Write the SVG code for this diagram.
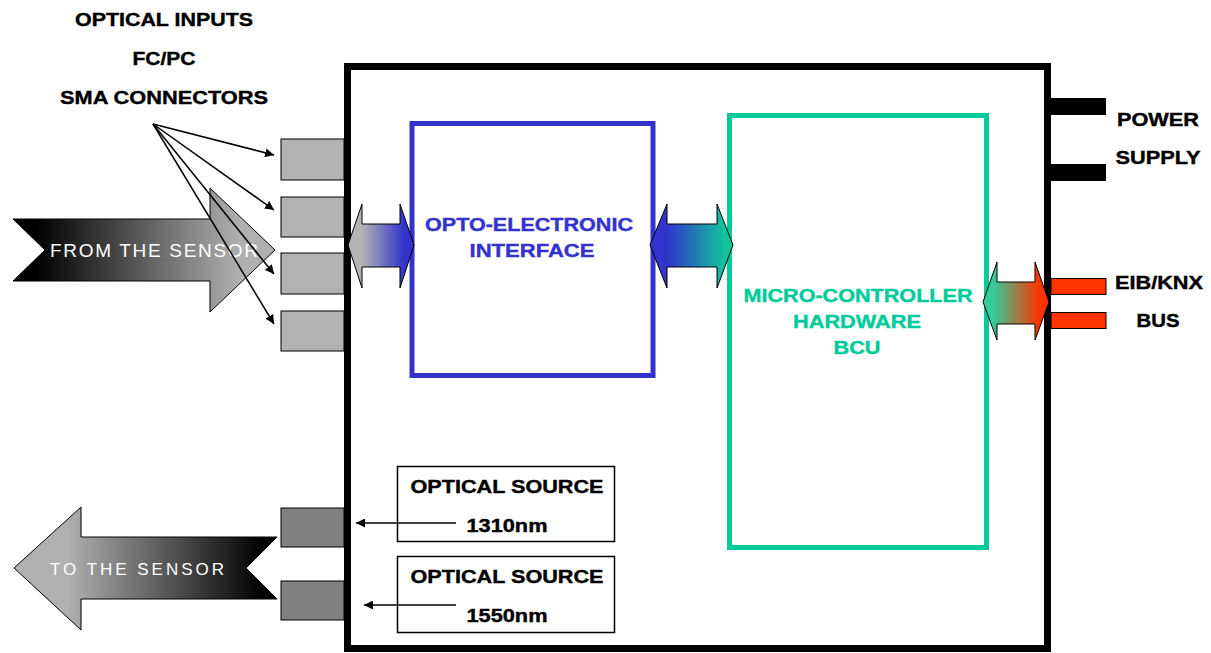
<svg xmlns="http://www.w3.org/2000/svg" width="1211" height="653" viewBox="0 0 1211 653">
<style>
.lbl{font-family:"Liberation Sans",Arial,sans-serif;font-weight:bold;font-size:19px;text-anchor:middle;fill:#000;stroke:#000;stroke-width:0.4}
.wl{font-family:"Liberation Sans",Arial,sans-serif;font-size:19px;fill:#fff}
.blue{fill:#3333cc;stroke:#3333cc}
.teal{fill:#00cc99;stroke:#00cc99}
.conn{fill:#b2b2b2;stroke:#000;stroke-width:1}
.conn2{fill:#808080;stroke:#000;stroke-width:1}
.dbl{stroke:#000;stroke-width:1}
.ln{stroke:#000;stroke-width:1.5;fill:none;marker-end:url(#ah)}
</style>
<defs>
<marker id="ah" viewBox="0 0 10 10" refX="10" refY="5" markerWidth="9" markerHeight="9" markerUnits="userSpaceOnUse" orient="auto">
<path d="M0,0 L10,5 L0,10 z" fill="#000"/>
</marker>
<linearGradient id="gFrom" x1="13" y1="0" x2="240" y2="0" gradientUnits="userSpaceOnUse">
<stop offset="0.1" stop-color="#000"/><stop offset="1" stop-color="#b0b0b0"/>
</linearGradient>
<linearGradient id="gTo" x1="14" y1="0" x2="277" y2="0" gradientUnits="userSpaceOnUse">
<stop offset="0.2" stop-color="#b0b0b0"/><stop offset="0.95" stop-color="#000"/>
</linearGradient>
<linearGradient id="g1" x1="348" y1="0" x2="414" y2="0" gradientUnits="userSpaceOnUse">
<stop offset="0.2" stop-color="#b4b4b4"/><stop offset="0.85" stop-color="#3333cc"/>
</linearGradient>
<linearGradient id="g2" x1="650" y1="0" x2="733" y2="0" gradientUnits="userSpaceOnUse">
<stop offset="0.2" stop-color="#3333cc"/><stop offset="0.9" stop-color="#11c49c"/>
</linearGradient>
<linearGradient id="g3" x1="983" y1="0" x2="1049" y2="0" gradientUnits="userSpaceOnUse">
<stop offset="0.15" stop-color="#33cc99"/><stop offset="0.85" stop-color="#ff3300"/>
</linearGradient>
</defs>

<g id="main-box">
<rect x="347.5" y="66.5" width="700" height="582" fill="#fff" stroke="#000" stroke-width="7"/>
</g>

<g id="title">
<text class="lbl" x="164" y="26" textLength="178" lengthAdjust="spacingAndGlyphs">OPTICAL INPUTS</text>
<text class="lbl" x="164" y="65" textLength="63" lengthAdjust="spacingAndGlyphs">FC/PC</text>
<text class="lbl" x="164" y="104" textLength="208" lengthAdjust="spacingAndGlyphs">SMA CONNECTORS</text>
</g>

<g id="from-sensor">
<polygon points="13,219 210,219 210,188 275,250 210,312 210,281 13,281 45,250" fill="url(#gFrom)" stroke="#000" stroke-width="1"/>
<text class="wl" x="50" y="257" textLength="208" lengthAdjust="spacing">FROM THE SENSOR</text>
</g>

<g id="optical-inputs">
<rect class="conn" x="281" y="139" width="63" height="41"/>
<rect class="conn" x="281" y="197" width="63" height="40"/>
<rect class="conn" x="281" y="253" width="63" height="41"/>
<rect class="conn" x="281" y="311" width="63" height="40"/>
</g>

<g id="to-sensor">
<polygon points="14,568 81,507 81,537 277,537 246,568 277,599 81,599 81,630" fill="url(#gTo)" stroke="#000" stroke-width="1"/>
<text class="wl" x="50" y="575" textLength="174" lengthAdjust="spacing" style="font-size:17px">TO THE SENSOR</text>
</g>

<g id="optical-outputs">
<rect class="conn2" x="281" y="508" width="63" height="39"/>
<rect class="conn2" x="281" y="581" width="63" height="39"/>
</g>

<g id="opto-interface">
<rect x="412" y="123.5" width="241" height="252" fill="none" stroke="#3333cc" stroke-width="5"/>
<text class="lbl blue" x="529" y="231" textLength="208" lengthAdjust="spacingAndGlyphs">OPTO-ELECTRONIC</text>
<text class="lbl blue" x="532" y="257" textLength="125" lengthAdjust="spacingAndGlyphs">INTERFACE</text>
</g>

<g id="micro-controller">
<rect x="729.5" y="115.5" width="257" height="432" fill="none" stroke="#00cc99" stroke-width="5"/>
<text class="lbl teal" x="858" y="302" textLength="229" lengthAdjust="spacingAndGlyphs">MICRO-CONTROLLER</text>
<text class="lbl teal" x="857" y="328" textLength="128" lengthAdjust="spacingAndGlyphs">HARDWARE</text>
<text class="lbl teal" x="857" y="354" textLength="47" lengthAdjust="spacingAndGlyphs">BCU</text>
</g>

<g id="source-1310">
<rect x="397.5" y="466.5" width="217" height="75" fill="#fff" stroke="#000" stroke-width="1.5"/>
<text class="lbl" x="507" y="493" textLength="193" lengthAdjust="spacingAndGlyphs">OPTICAL SOURCE</text>
<text class="lbl" x="507" y="532" textLength="81" lengthAdjust="spacingAndGlyphs">1310nm</text>
</g>

<g id="source-1550">
<rect x="397.5" y="556.5" width="217" height="76" fill="#fff" stroke="#000" stroke-width="1.5"/>
<text class="lbl" x="507" y="583" textLength="193" lengthAdjust="spacingAndGlyphs">OPTICAL SOURCE</text>
<text class="lbl" x="507" y="622" textLength="81" lengthAdjust="spacingAndGlyphs">1550nm</text>
</g>

<g id="power-supply">
<rect x="1050" y="98" width="56" height="17" fill="#000"/>
<rect x="1050" y="164" width="56" height="17" fill="#000"/>
<text class="lbl" x="1158" y="126" textLength="82" lengthAdjust="spacingAndGlyphs">POWER</text>
<text class="lbl" x="1158" y="164" textLength="85" lengthAdjust="spacingAndGlyphs">SUPPLY</text>
</g>

<g id="eib-bus">
<rect x="1051" y="278.5" width="55" height="16" fill="#ff3300" stroke="#000" stroke-width="1"/>
<rect x="1051" y="312.5" width="55" height="16" fill="#ff3300" stroke="#000" stroke-width="1"/>
<text class="lbl" x="1159" y="289" textLength="88" lengthAdjust="spacingAndGlyphs">EIB/KNX</text>
<text class="lbl" x="1158" y="327" textLength="43" lengthAdjust="spacingAndGlyphs">BUS</text>
</g>

<g id="connectors">
<line class="ln" x1="153" y1="124" x2="274" y2="155"/>
<line class="ln" x1="153" y1="124" x2="274" y2="210"/>
<line class="ln" x1="153" y1="124" x2="274" y2="274"/>
<line class="ln" x1="153" y1="124" x2="274" y2="324"/>
<line class="ln" x1="456" y1="523" x2="356" y2="523"/>
<line class="ln" x1="456" y1="605" x2="364" y2="605"/>
<polygon class="dbl" fill="url(#g1)" points="348,245 362,204 362,224 400,224 400,204 414,245 400,288 400,267 362,267 362,288"/>
<polygon class="dbl" fill="url(#g2)" points="650,245 667,204 667,224 717,224 717,204 733,245 717,288 717,267 667,267 667,288"/>
<polygon class="dbl" fill="url(#g3)" points="983,302 997,262 997,282 1035,282 1035,262 1049,302 1035,340 1035,324 997,324 997,340"/>
</g>
</svg>
